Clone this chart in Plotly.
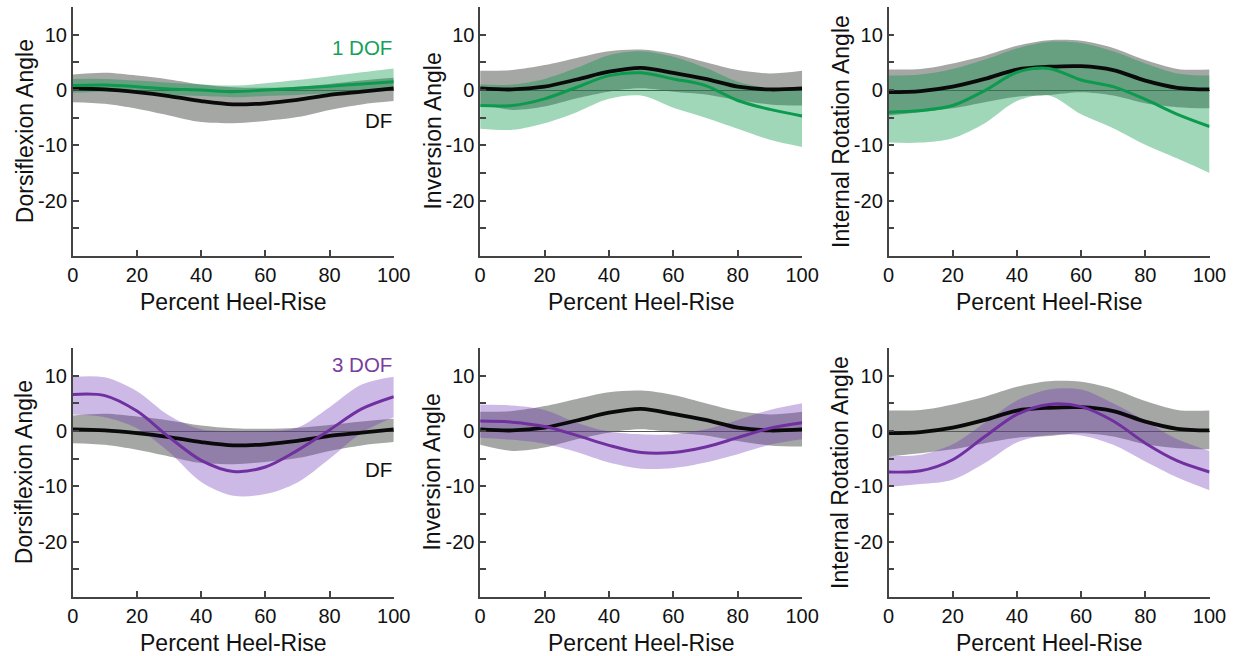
import plotly.graph_objects as go

# Percent of heel-rise at which each curve is sampled
heel_rise_pct = [0, 10, 20, 30, 40, 50, 60, 70, 80, 90, 100]

# Reference (DF) kinematics: mean and band limits
df_ref_mean = [0.3, 0.1, -0.4, -1.1, -2.0, -2.6, -2.4, -1.8, -0.9, -0.3, 0.3]
df_ref_hi = [2.8, 3.1, 2.6, 1.9, 1.0, 0.5, 0.4, 0.6, 1.1, 1.7, 2.2]
df_ref_lo = [-2.2, -2.5, -3.4, -4.6, -5.8, -6.0, -5.6, -4.9, -3.6, -2.6, -2.0]

inv_ref_mean = [0.3, 0.1, 0.6, 1.9, 3.3, 4.0, 3.1, 2.0, 0.6, 0.1, 0.3]
inv_ref_hi = [3.5, 3.6, 4.5, 5.8, 7.0, 7.3, 6.5, 5.0, 3.6, 3.0, 3.5]
inv_ref_lo = [-2.5, -3.6, -3.0, -1.5, -0.3, 0.3, -0.3, -0.8, -1.8, -2.6, -2.8]

ir_ref_mean = [-0.4, -0.2, 0.6, 2.0, 3.7, 4.2, 4.3, 3.6, 1.7, 0.4, 0.1]
ir_ref_hi = [3.7, 3.8, 4.8, 6.2, 8.0, 9.0, 8.9, 7.6, 5.4, 3.8, 3.7]
ir_ref_lo = [-4.6, -4.0, -3.3, -2.2, -1.2, -0.9, -0.4, -1.0, -2.4, -3.1, -3.3]

# 1 DOF model
df_1dof_mean = [0.8, 0.9, 0.6, 0.2, 0.0, -0.3, 0.0, 0.3, 0.7, 1.1, 1.5]
df_1dof_hi = [2.0, 2.0, 1.7, 1.3, 1.0, 0.8, 1.2, 1.8, 2.5, 3.2, 3.9]
df_1dof_lo = [-0.5, -0.3, -0.5, -0.9, -1.1, -1.3, -1.1, -0.9, -0.6, -0.4, -0.2]

inv_1dof_mean = [-2.8, -2.8, -1.6, 0.5, 2.6, 3.1, 2.0, 0.8, -1.9, -3.5, -4.7]
inv_1dof_hi = [1.0, 1.0, 2.0, 4.0, 6.3, 7.0, 6.0, 4.0, 1.5, 0.3, 0.3]
inv_1dof_lo = [-7.0, -7.2, -6.0, -4.0, -1.6, -1.0, -3.2, -5.0, -7.0, -9.0, -10.3]

ir_1dof_mean = [-4.0, -3.7, -2.8, -0.1, 3.2, 3.9, 1.8, 0.6, -1.7, -4.4, -6.6]
ir_1dof_hi = [2.6, 2.8, 3.8, 5.5, 7.5, 8.7, 8.5, 7.0, 4.8, 3.0, 2.6]
ir_1dof_lo = [-9.5, -9.5, -8.7, -6.0, -2.0, -1.0, -4.4, -6.9, -9.9, -12.4, -15.0]

# 3 DOF model
df_3dof_mean = [6.6, 6.4, 3.6, -1.1, -5.3, -7.3, -6.5, -3.5, 0.2, 4.0, 6.2]
df_3dof_hi = [9.8, 9.7, 7.2, 2.8, 0.3, 0.0, 0.0, 0.6, 4.3, 8.4, 9.8]
df_3dof_lo = [3.0, 2.5, 0.5, -3.8, -9.2, -11.7, -11.4, -9.3, -5.0, -0.3, 2.5]

inv_3dof_mean = [1.8, 1.6, 0.8, -0.8, -2.6, -3.9, -3.9, -2.9, -1.2, 0.5, 1.5]
inv_3dof_hi = [4.8, 4.6, 3.8, 1.5, -0.1, -0.6, -0.6, 0.3, 2.0, 3.8, 5.0]
inv_3dof_lo = [-1.2, -1.6, -2.3, -3.8, -5.7, -6.8, -6.7, -5.7, -4.2, -2.5, -1.5]

ir_3dof_mean = [-7.4, -7.2, -5.2, -1.0, 3.0, 4.8, 4.4, 1.8, -2.2, -5.4, -7.4]
ir_3dof_hi = [-4.5, -4.3, -2.4, 1.5, 5.5, 7.5, 7.5, 5.0, 1.8, -1.5, -3.6]
ir_3dof_lo = [-10.1, -9.6, -8.8, -5.8, -2.1, -0.7, -0.8, -2.5, -5.5, -8.4, -10.7]

y_titles = ["Dorsiflexion Angle", "Inversion Angle", "Internal Rotation Angle"]
x_title = "Percent Heel-Rise"
x_ticks = [0, 20, 40, 60, 80, 100]
y_ticks = [-25, -20, -15, -10, -5, 0, 5, 10]
y_tick_text = ["", "-20", "", "-10", "", "0", "", "10"]

FONT = "Liberation Sans, Arial, sans-serif"
GRAY_FILL = "rgba(90,95,90,0.55)"
GREEN_FILL = "rgba(5,150,71,0.38)"
PURPLE_FILL = "rgba(112,55,184,0.35)"
GREEN = "#0b9a4e"
PURPLE = "#7030a0"
BLACK = "#0a0a0a"

W, H = 1255, 656
col_px = [(68, 395), (483, 811), (899, 1226)]
row_px = [(7, 256), (348, 597)]

ref_sets = [
    (df_ref_mean, df_ref_hi, df_ref_lo),
    (inv_ref_mean, inv_ref_hi, inv_ref_lo),
    (ir_ref_mean, ir_ref_hi, ir_ref_lo),
]
model_rows = [
    ([(df_1dof_mean, df_1dof_hi, df_1dof_lo),
      (inv_1dof_mean, inv_1dof_hi, inv_1dof_lo),
      (ir_1dof_mean, ir_1dof_hi, ir_1dof_lo)], GREEN, GREEN_FILL),
    ([(df_3dof_mean, df_3dof_hi, df_3dof_lo),
      (inv_3dof_mean, inv_3dof_hi, inv_3dof_lo),
      (ir_3dof_mean, ir_3dof_hi, ir_3dof_lo)], PURPLE, PURPLE_FILL),
]

fig = go.Figure()
layout = {}
annotations = []
SPLINE = dict(shape="spline", smoothing=0.9)


def band(xa, ya, lo, hi, fill):
    fig.add_trace(go.Scatter(x=heel_rise_pct, y=lo, xaxis=xa, yaxis=ya, mode="lines",
                             line=dict(width=0, **SPLINE),
                             hoverinfo="skip", showlegend=False))
    fig.add_trace(go.Scatter(x=heel_rise_pct, y=hi, xaxis=xa, yaxis=ya, mode="lines",
                             line=dict(width=0, **SPLINE),
                             fill="tonexty", fillcolor=fill,
                             hoverinfo="skip", showlegend=False))


def mean_line(xa, ya, y, color, width):
    fig.add_trace(go.Scatter(x=heel_rise_pct, y=y, xaxis=xa, yaxis=ya, mode="lines",
                             line=dict(color=color, width=width, **SPLINE),
                             showlegend=False))


for r, (models, color, fill) in enumerate(model_rows):
    for c in range(3):
        idx = r * 3 + c + 1
        sfx = "" if idx == 1 else str(idx)
        xa, ya = "x" + sfx, "y" + sfx
        x0, x1 = col_px[c]
        y0, y1 = row_px[r]
        layout["xaxis" + sfx] = dict(
            domain=[x0 / W, x1 / W], anchor=ya, range=[0, 100],
            showline=True, linecolor="#444", linewidth=1.5,
            ticks="inside", ticklen=6, tickcolor="#444", tickwidth=1.5,
            tickvals=x_ticks, showgrid=False, zeroline=False,
            tickfont=dict(family=FONT, size=20, color="#111"),
        )
        layout["yaxis" + sfx] = dict(
            domain=[1 - y1 / H, 1 - y0 / H], anchor=xa, range=[-30, 15],
            showline=True, linecolor="#444", linewidth=1.5,
            ticks="inside", ticklen=6, tickcolor="#444", tickwidth=1.5,
            tickvals=y_ticks, ticktext=y_tick_text, showgrid=False,
            zeroline=True, zerolinecolor="#555", zerolinewidth=1,
            tickfont=dict(family=FONT, size=20, color="#111"),
        )

        rm, rh, rl = ref_sets[c]
        mm, mh, ml = models[c]
        band(xa, ya, rl, rh, GRAY_FILL)
        band(xa, ya, ml, mh, fill)
        mean_line(xa, ya, rm, BLACK, 3.8)
        mean_line(xa, ya, mm, color, 3)

        # axis titles
        annotations.append(dict(text=x_title, xref="paper", yref="paper",
                                x=(x0 + x1) / 2 / W, y=1 - (y1 + 46) / H,
                                xanchor="center", yanchor="middle", showarrow=False,
                                font=dict(family=FONT, size=23, color="#111")))
        annotations.append(dict(text=y_titles[c], xref="paper", yref="paper",
                                x=(x0 - 49) / W, y=1 - (y0 + y1) / 2 / H, textangle=-90,
                                xanchor="center", yanchor="middle", showarrow=False,
                                font=dict(family=FONT, size=23, color="#111")))

# series labels in the dorsiflexion panels
annotations += [
    dict(text="1 DOF", xref="x", yref="y", x=100, y=7.6, xanchor="right", yanchor="middle",
         showarrow=False, font=dict(family=FONT, size=20.5, color="#14a05a")),
    dict(text="DF", xref="x", yref="y", x=100, y=-5.5, xanchor="right", yanchor="middle",
         showarrow=False, font=dict(family=FONT, size=20.5, color="#111")),
    dict(text="3 DOF", xref="x4", yref="y4", x=100, y=12, xanchor="right", yanchor="middle",
         showarrow=False, font=dict(family=FONT, size=20.5, color="#7a3c9e")),
    dict(text="DF", xref="x4", yref="y4", x=100, y=-7, xanchor="right", yanchor="middle",
         showarrow=False, font=dict(family=FONT, size=20.5, color="#111")),
]

fig.update_layout(
    width=W, height=H, margin=dict(l=0, r=0, t=0, b=0),
    paper_bgcolor="white", plot_bgcolor="white",
    annotations=annotations, showlegend=False,
    **layout,
)

fig.write_html("out.html")
